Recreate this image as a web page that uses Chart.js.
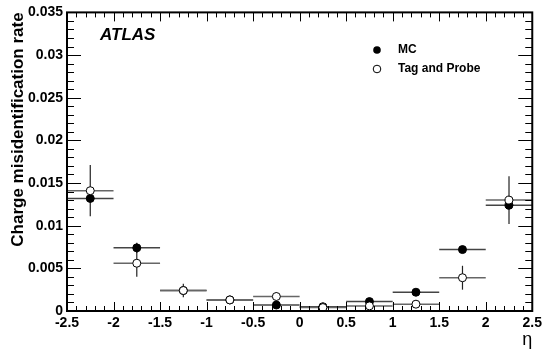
<!DOCTYPE html>
<html><head><meta charset="utf-8">
<script src="https://cdn.jsdelivr.net/npm/chart.js@4"></script>
<style>html,body{margin:0;padding:0;background:#fff}#c{display:block}</style>
</head><body>
<canvas id="c" width="546" height="351"></canvas>
<script>
const etaCenters = [-2.25,-1.75,-1.25,-0.75,-0.25,0.25,0.75,1.25,1.75,2.25];
const etaHalfWidth = [0.25,0.25,0.25,0.25,0.25,0.25,0.25,0.25,0.25,0.25];
const mcRate  = [0.0132,0.0074,0.0024,0.0013,0.0007,0.0005,0.0011,0.0022,0.0072,0.0124];
const mcErr   = [0.0003,0.0006,0.0003,0.0002,0.0002,0.0001,0.0002,0.0002,0.0003,0.0004];
const tpRate  = [0.0141,0.0056,0.0024,0.0013,0.0017,0.0004,0.0006,0.0008,0.0039,0.0130];
const tpErr   = [0.0030,0.0016,0.0008,0.0004,0.0005,0.0003,0.0003,0.0004,0.0014,0.0028];
const xTicks = [-2.5,-2,-1.5,-1,-0.5,0,0.5,1,1.5,2,2.5];
const yTicks = [0,0.005,0.01,0.015,0.02,0.025,0.03,0.035];

const toPts = (ys, es) => etaCenters.map((x,i)=>({x, y: ys[i], xe: etaHalfWidth[i], ye: es[i]}));

const errPlugin = {
  id:'errbars',
  beforeDatasetsDraw(chart){
    const {ctx, scales:{x,y}} = chart;
    ctx.save();
    chart.data.datasets.forEach((ds)=>{
      ds.data.forEach(p=>{
        const px=x.getPixelForValue(p.x), py=y.getPixelForValue(p.y);
        ctx.lineWidth=1.5; ctx.strokeStyle=ds.hColor;
        ctx.beginPath();
        ctx.moveTo(x.getPixelForValue(p.x-p.xe),py);
        ctx.lineTo(x.getPixelForValue(p.x+p.xe),py);
        ctx.stroke();
        ctx.lineWidth=1.2; ctx.strokeStyle='#222';
        ctx.beginPath();
        ctx.moveTo(px,y.getPixelForValue(p.y-p.ye));
        ctx.lineTo(px,y.getPixelForValue(p.y+p.ye));
        ctx.stroke();
      });
    });
    ctx.restore();
  },
  afterDraw(chart){
    const {ctx, chartArea:a, scales:{x,y}} = chart;
    ctx.save();
    ctx.strokeStyle='#000';
    ctx.lineWidth=1;
    for(let k=0;k<=35;k++){
      const v=k*0.001, py=Math.round(y.getPixelForValue(v))+0.5;
      const L = (k%5===0)?14:7;
      ctx.beginPath();
      ctx.moveTo(a.left,py); ctx.lineTo(a.left+L,py);
      ctx.moveTo(a.right,py); ctx.lineTo(a.right-L,py);
      ctx.stroke();
    }
    for(let k=-25;k<=25;k++){
      const v=k*0.1, px=Math.round(x.getPixelForValue(v))+0.5;
      const L=(k%5===0)?9:5;
      ctx.beginPath();
      ctx.moveTo(px,a.bottom); ctx.lineTo(px,a.bottom-L);
      ctx.moveTo(px,a.top); ctx.lineTo(px,a.top+L);
      ctx.stroke();
    }
    ctx.lineWidth=2;
    ctx.strokeRect(a.left,a.top,a.right-a.left,a.bottom-a.top);
    ctx.fillStyle='#000';
    ctx.font='italic bold 17px "Liberation Sans", Arial, sans-serif';
    ctx.textBaseline='middle'; ctx.textAlign='left';
    ctx.fillText('ATLAS', 100, 35);
    ctx.font='bold 12px "Liberation Sans", Arial, sans-serif';
    ctx.beginPath(); ctx.arc(377,50,3.8,0,Math.PI*2); ctx.fill();
    ctx.fillText('MC', 398, 50);
    ctx.lineWidth=1;
    ctx.beginPath(); ctx.arc(377,69,3.8,0,Math.PI*2); ctx.fillStyle='#fff'; ctx.fill(); ctx.stroke();
    ctx.fillStyle='#000';
    ctx.fillText('Tag and Probe', 398, 69);
    ctx.restore();
  }
};

new Chart(document.getElementById('c'), {
  type:'scatter',
  data:{datasets:[
    {label:'MC', data: toPts(mcRate, mcErr), pointRadius:4, pointBackgroundColor:'#000', pointBorderColor:'#000', pointBorderWidth:1, hColor:'#444', order:1},
    {label:'Tag and Probe', data: toPts(tpRate, tpErr), pointRadius:4, pointBackgroundColor:'#fff', pointBorderColor:'#000', pointBorderWidth:1, hColor:'#666', order:0}
  ]},
  options:{
    responsive:false, animation:false,
    layout:{padding:{top:9,right:9,left:0,bottom:0}},
    plugins:{legend:{display:false}, tooltip:{enabled:false}},
    scales:{
      x:{type:'linear', min:-2.5, max:2.5,
        afterBuildTicks(s){ s.ticks = xTicks.map(v=>({value:v})); },
        afterFit(s){ s.height = 40; },
        grid:{display:false, drawTicks:false},
        border:{display:false},
        ticks:{padding:4, color:'#000', font:{family:'"Liberation Sans", Arial, sans-serif', weight:'bold', size:14}, maxRotation:0, autoSkip:false,
          callback:(v)=>String(v)},
        title:{display:true, text:'η', align:'end', color:'#000', padding:{top:1,bottom:0}, font:{family:'"Liberation Sans", Arial, sans-serif', size:18}}
      },
      y:{type:'linear', min:0, max:0.035,
        afterBuildTicks(s){ s.ticks = yTicks.map(v=>({value:v})); },
        afterFit(s){ s.width = 67; },
        grid:{display:false, drawTicks:false},
        border:{display:false},
        ticks:{padding:4, color:'#000', font:{family:'"Liberation Sans", Arial, sans-serif', weight:'bold', size:14}, autoSkip:false,
          callback:(v)=>String(Math.round(v*1000)/1000)},
        title:{display:true, text:'Charge misidentification rate', align:'end', color:'#000', padding:{top:8,bottom:0}, font:{family:'"Liberation Sans", Arial, sans-serif', weight:'bold', size:17}}
      }
    }
  },
  plugins:[errPlugin]
});
</script>
</body></html>
